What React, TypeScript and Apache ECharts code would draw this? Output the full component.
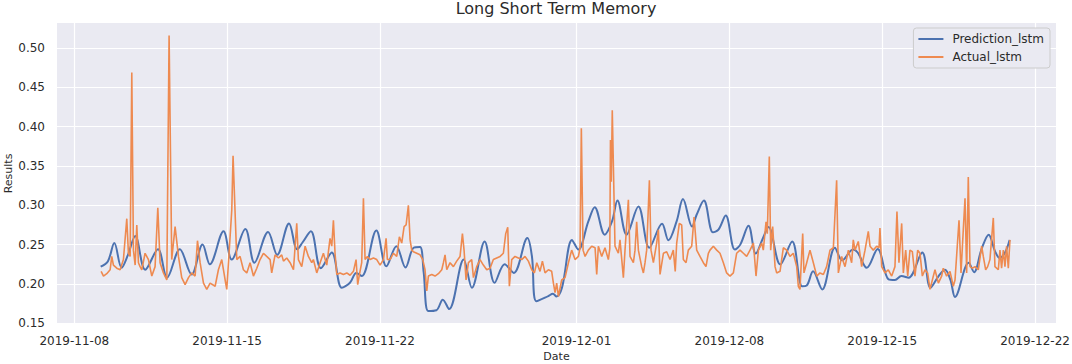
import React, { useEffect, useRef } from "react";
import * as echarts from "echarts";

const TITLE = "Long Short Term Memory";
const X_NAME = "Date";
const Y_NAME = "Results";
const SERIES_NAMES = ["Prediction_lstm", "Actual_lstm"];
// hour offsets below are counted from this date (local time)
const START_DATE = "2019-11-09";
const X_MIN = "2019-11-07 05:00";
const X_MAX = "2019-12-22 23:00";
const xTickDates = ["2019-11-08", "2019-11-15", "2019-11-22", "2019-12-01", "2019-12-08", "2019-12-15", "2019-12-22"];
const yTicks = [0.15, 0.2, 0.25, 0.3, 0.35, 0.4, 0.45, 0.5];
const Y_MIN = 0.149;
const Y_MAX = 0.532;

// [hours since START_DATE, value]
const predictionLstm: [number, number][] = [
  [5, 0.222], [13, 0.229], [20, 0.252], [28, 0.2205], [35, 0.237], [43, 0.261], [54, 0.218], [68, 0.244],
  [78, 0.208], [92, 0.244], [105, 0.212], [117, 0.25], [125, 0.225], [140, 0.267], [149, 0.231], [164, 0.27],
  [174, 0.227], [189, 0.266], [199, 0.237], [212, 0.277], [221, 0.244], [227, 0.253], [236, 0.267], [247, 0.22],
  [259, 0.24], [270, 0.195], [279, 0.2015], [286, 0.214], [292, 0.21], [308, 0.268], [319, 0.2225], [330, 0.248],
  [340, 0.221], [349, 0.246], [356, 0.247], [360, 0.215], [365, 0.1655], [374, 0.1665], [381, 0.18], [388, 0.168],
  [404, 0.231], [413, 0.195], [427, 0.254], [438, 0.2015], [449, 0.225], [459, 0.214], [474, 0.2585], [479, 0.235],
  [484, 0.178], [497, 0.1845], [502, 0.1875], [506, 0.184], [512, 0.195], [523, 0.256], [530, 0.2437], [541, 0.2795],
  [548, 0.2977], [559, 0.2627], [567, 0.2795], [573, 0.306], [583, 0.2627], [596, 0.2985], [608, 0.246], [622, 0.2766],
  [629, 0.2555], [638, 0.2795], [645, 0.308], [655, 0.273], [660, 0.288], [668, 0.306], [678, 0.2656], [684, 0.269],
  [692, 0.287], [702, 0.2437], [708, 0.25], [717, 0.274], [725, 0.2386], [733, 0.2585], [739, 0.2724], [752, 0.2247],
  [765, 0.254], [776, 0.197], [781, 0.198], [788, 0.216], [798, 0.193], [812, 0.246], [820, 0.23], [832, 0.2437],
  [837, 0.24], [847, 0.2205], [859, 0.2445], [871, 0.2057], [878, 0.205], [885, 0.21], [893, 0.208], [908, 0.24],
  [917, 0.195], [926, 0.21], [933, 0.218], [939, 0.205], [944, 0.1835], [959, 0.2268], [965, 0.215], [973, 0.2437],
  [981, 0.2627], [988, 0.2415], [993, 0.233], [999, 0.24], [1004, 0.256],
];

const actualLstm: [number, number][] = [
  [5.5, 0.216], [8.1, 0.21], [11.7, 0.213], [15.4, 0.218], [17.2, 0.235], [19, 0.224], [22.7, 0.22], [26.4, 0.218],
  [30, 0.231], [33.7, 0.283], [35.5, 0.239], [37.4, 0.235], [39.2, 0.469], [41, 0.243], [42.9, 0.224], [44.7, 0.275],
  [46.5, 0.227], [48.3, 0.222], [50.2, 0.218], [53.8, 0.239], [57.5, 0.231], [61.2, 0.21], [64.8, 0.222], [67.8, 0.297],
  [70.3, 0.227], [74, 0.214], [77.7, 0.205], [80.2, 0.516], [83.1, 0.231], [86.8, 0.273], [90.5, 0.235], [94.1, 0.208],
  [97.8, 0.199], [101.5, 0.208], [105.1, 0.214], [108.8, 0.21], [111.4, 0.255], [114.3, 0.227], [118, 0.201], [121.6, 0.193],
  [125.3, 0.201], [130.8, 0.197], [134.4, 0.218], [138.1, 0.231], [141.8, 0.205], [143.6, 0.193], [149.1, 0.294], [150.5, 0.363],
  [154.6, 0.231], [158.2, 0.235], [161.9, 0.218], [165.6, 0.214], [169.2, 0.227], [172.9, 0.21], [176.6, 0.22], [180.2, 0.231],
  [183.9, 0.239], [187.5, 0.235], [191.2, 0.231], [193, 0.214], [196.7, 0.237], [200.4, 0.233], [204, 0.237],
  [205.9, 0.229], [209.5, 0.233], [213.2, 0.227], [216.9, 0.218], [220.5, 0.277], [222.3, 0.231], [226, 0.222], [229.7, 0.248],
  [233.3, 0.235], [237, 0.227], [238.8, 0.231], [242.5, 0.214], [246.2, 0.227], [249.8, 0.239], [253.5, 0.224], [257.1, 0.258],
  [259, 0.248], [260.8, 0.281], [262.6, 0.239], [264.5, 0.212], [268.1, 0.214], [271.8, 0.212], [275.5, 0.214], [279.1, 0.211],
  [282.8, 0.216], [285.7, 0.231], [287.5, 0.199], [289.4, 0.212], [291.9, 0.227], [293.8, 0.309], [295.6, 0.231], [298.2, 0.235],
  [301.1, 0.231], [304.8, 0.233], [308.4, 0.231], [312.1, 0.224], [315.8, 0.231], [318.7, 0.258], [320.1, 0.231], [323.1, 0.231],
  [326.7, 0.239], [330.4, 0.235], [333.3, 0.26], [335.9, 0.252], [338.5, 0.273], [340.7, 0.275], [343.2, 0.3], [345.1, 0.256],
  [346.9, 0.243], [348.7, 0.241], [352.4, 0.239], [356, 0.237], [359, 0.231], [361.5, 0.218], [363.4, 0.191], [365.2, 0.21],
  [368.9, 0.212], [372.5, 0.21], [376.2, 0.213], [379.9, 0.218], [381.7, 0.227], [383.5, 0.237], [385.4, 0.218], [389, 0.227],
  [392.7, 0.222], [396.3, 0.229], [400, 0.235], [402.6, 0.264], [404.4, 0.243], [406.6, 0.205], [409.2, 0.227],
  [412.8, 0.231], [414.7, 0.208], [418.3, 0.222], [422, 0.231], [425.6, 0.224], [429.3, 0.218], [433, 0.22], [436.6, 0.231],
  [440.3, 0.233], [444, 0.235], [447.6, 0.239], [450.2, 0.264], [452.4, 0.272], [454.2, 0.197], [456.8, 0.231], [460.4, 0.235],
  [464.1, 0.233], [467.8, 0.231], [471.4, 0.235], [475.1, 0.229], [478.8, 0.218], [481.7, 0.214], [484.3, 0.227], [487.9, 0.216],
  [490.5, 0.229], [493.4, 0.214], [497.1, 0.218], [500.7, 0.216], [502.6, 0.201], [504.4, 0.189], [506.2, 0.201], [508.1, 0.184],
  [511.7, 0.205], [515.4, 0.208], [519.1, 0.227], [522.7, 0.243], [526.4, 0.231], [530.1, 0.235], [531.9, 0.246], [533.3, 0.398],
  [535.2, 0.243], [537.4, 0.235], [541, 0.243], [544.7, 0.248], [548.4, 0.246], [550.2, 0.212], [552, 0.248], [555.7, 0.235],
  [559.3, 0.246], [563, 0.231], [564.6, 0.245], [565.3, 0.383], [566.2, 0.33], [567.3, 0.421], [570.3, 0.248], [574, 0.239],
  [575.8, 0.256], [579.5, 0.208], [581.3, 0.243], [585, 0.307], [586.8, 0.235], [590.5, 0.227], [592.3, 0.243], [594.1, 0.279],
  [596, 0.243], [599.6, 0.222], [601.5, 0.214], [603.3, 0.227], [605.1, 0.243], [608.1, 0.332], [609.9, 0.243], [612.5, 0.227],
  [616.1, 0.252], [618, 0.269], [619.8, 0.212], [623.5, 0.239], [627.1, 0.241], [630.8, 0.231], [634.4, 0.243], [636.5, 0.216],
  [638.1, 0.252], [641, 0.277], [643.6, 0.275], [645.4, 0.231], [648.4, 0.227], [650.9, 0.243], [654.6, 0.248], [657.2, 0.285],
  [660.1, 0.243], [663.7, 0.235], [667.4, 0.227], [670.3, 0.222], [672.9, 0.239], [674.7, 0.243], [678.4, 0.248], [682.1, 0.243],
  [685.7, 0.239], [689.4, 0.227], [693, 0.214], [696.7, 0.21], [700.4, 0.214], [704, 0.239], [707.7, 0.243], [711.4, 0.239],
  [715, 0.235], [718.7, 0.243], [722.4, 0.252], [725.3, 0.21], [727.9, 0.243], [731.5, 0.252], [733.3, 0.243], [736.3, 0.279],
  [737.7, 0.264], [739.9, 0.362], [741.4, 0.243], [743.6, 0.273], [746.2, 0.222], [748, 0.214], [751.7, 0.216], [755.3, 0.246],
  [759, 0.243], [762.6, 0.235], [766.3, 0.239], [770, 0.222], [771.8, 0.197], [773.6, 0.193], [776.6, 0.264], [778, 0.214],
  [781, 0.227], [784.6, 0.243], [788.3, 0.227], [792, 0.21], [795.6, 0.214], [799.3, 0.212], [802.9, 0.222], [806.6, 0.243],
  [810.3, 0.246],
  [813.9, 0.332], [815.8, 0.214], [819.4, 0.235], [823.1, 0.222], [826.8, 0.243], [830.4, 0.227], [832.2, 0.256], [834.1, 0.243],
  [837.7, 0.254], [841.4, 0.222], [845.1, 0.243], [848.7, 0.267], [850.6, 0.248], [854.2, 0.243], [857.9, 0.248], [860.5, 0.246],
  [861.5, 0.271], [863.4, 0.222], [867, 0.214], [870.7, 0.218], [874.4, 0.21], [878, 0.222], [880.2, 0.292], [882.4, 0.227],
  [885.4, 0.277], [887.2, 0.214], [889.8, 0.243], [892, 0.21], [894.5, 0.243], [897.1, 0.241], [900, 0.21], [903, 0.243],
  [905.5, 0.239], [908.1, 0.21], [911, 0.218], [913.9, 0.214], [916.5, 0.193], [920.2, 0.21], [922, 0.218], [925.7, 0.201],
  [929.3, 0.21], [931.1, 0.22], [934.8, 0.21], [938.5, 0.216], [942.1, 0.197], [944, 0.205], [948.4, 0.281], [950.6, 0.214],
  [953.1, 0.269], [955, 0.309], [956.8, 0.214], [958.6, 0.336], [960.5, 0.222], [963, 0.22], [966, 0.222], [969.6, 0.218],
  [973.3, 0.248], [975.1, 0.235], [977.7, 0.218], [979.9, 0.222], [982.4, 0.231], [986.1, 0.284], [987.9, 0.222], [991.6, 0.218],
  [993.4, 0.243], [995.2, 0.22], [997.1, 0.243], [998.9, 0.222], [1000.7, 0.248], [1002.6, 0.22], [1004.4, 0.256],
];

const FONT = "DejaVu Sans";
const TEXT = "#2b2b2b";
const BLUE = "#4C72B0";
const ORANGE = "#EE8A50";

function parseLocal(s: string): number {
  const [d, t] = s.split(" ");
  const [y, m, day] = d.split("-").map(Number);
  let hh = 0, mm = 0;
  if (t) { const p = t.split(":").map(Number); hh = p[0]; mm = p[1]; }
  return new Date(y, m - 1, day, hh, mm).getTime();
}

function fmtDate(v: number): string {
  const d = new Date(v);
  const p = (n: number) => (n < 10 ? "0" + n : "" + n);
  return d.getFullYear() + "-" + p(d.getMonth() + 1) + "-" + p(d.getDate());
}

export default function App() {
  const ref = useRef<HTMLDivElement>(null);
  useEffect(() => {
    if (!ref.current) return;
    const chart = echarts.init(ref.current, undefined, { renderer: "svg" });
    const base = parseLocal(START_DATE);
    const toSeries = (arr: [number, number][]) => arr.map(([h, v]) => [base + h * 3600000, v]);
    const xTicks = xTickDates.map(parseLocal);
    chart.setOption({
      animation: false,
      backgroundColor: "#ffffff",
      textStyle: { fontFamily: FONT },
      title: {
        text: TITLE,
        left: 556,
        top: 0,
        padding: 0,
        textAlign: "center",
        textStyle: { fontFamily: FONT, fontSize: 16, fontWeight: "normal", color: TEXT },
      },
      legend: {
        data: SERIES_NAMES,
        orient: "vertical",
        right: 22,
        top: 28,
        padding: [4, 6, 4, 5],
        itemWidth: 25,
        itemHeight: 2,
        itemGap: 4,
        icon: "rect",
        backgroundColor: "#EAEAF2",
        borderColor: "#cccccc",
        borderWidth: 1,
        borderRadius: 3,
        textStyle: { fontFamily: FONT, fontSize: 12, color: TEXT, lineHeight: 14, padding: [0, 0, 0, 4] },
      },
      grid: {
        left: 57,
        right: 16,
        top: 23,
        bottom: 40,
        show: true,
        backgroundColor: "#EAEAF2",
        borderWidth: 0,
        containLabel: false,
        outerBoundsMode: "none",
      },
      xAxis: {
        type: "value",
        min: parseLocal(X_MIN),
        max: parseLocal(X_MAX),
        name: X_NAME,
        nameLocation: "middle",
        nameGap: 27,
        nameMoveOverlap: false,
        nameTextStyle: { fontFamily: FONT, fontSize: 11, color: TEXT },
        axisLine: { show: false },
        axisTick: { show: false, customValues: xTicks },
        axisLabel: {
          customValues: xTicks,
          formatter: (v: number) => fmtDate(v),
          fontFamily: FONT,
          fontSize: 12,
          color: TEXT,
          margin: 11,
        },
        splitLine: { show: true, lineStyle: { color: "#ffffff", width: 1.2 } },
      },
      yAxis: {
        type: "value",
        min: Y_MIN,
        max: Y_MAX,
        name: Y_NAME,
        nameLocation: "middle",
        nameGap: 43,
        nameMoveOverlap: false,
        nameTextStyle: { fontFamily: FONT, fontSize: 11, color: TEXT },
        axisLine: { show: false },
        axisTick: { show: false, customValues: yTicks },
        axisLabel: {
          customValues: yTicks,
          formatter: (v: number) => v.toFixed(2),
          fontFamily: FONT,
          fontSize: 12,
          color: TEXT,
          margin: 12,
        },
        splitLine: { show: true, lineStyle: { color: "#ffffff", width: 1.2 } },
      },
      series: [
        {
          name: SERIES_NAMES[0],
          type: "line",
          data: toSeries(predictionLstm),
          symbol: "none",
          showSymbol: false,
          smooth: 0.35,
          lineStyle: { color: BLUE, width: 2 },
          itemStyle: { color: BLUE },
          z: 2,
        },
        {
          name: SERIES_NAMES[1],
          type: "line",
          data: toSeries(actualLstm),
          symbol: "none",
          showSymbol: false,
          lineStyle: { color: ORANGE, width: 1.6 },
          itemStyle: { color: ORANGE },
          z: 3,
        },
      ],
    });
    return () => chart.dispose();
  }, []);
  return (
    <div
      ref={ref}
      style={{ position: "fixed", left: 0, top: 0, width: 1072, height: 364, background: "#fff" }}
    />
  );
}
